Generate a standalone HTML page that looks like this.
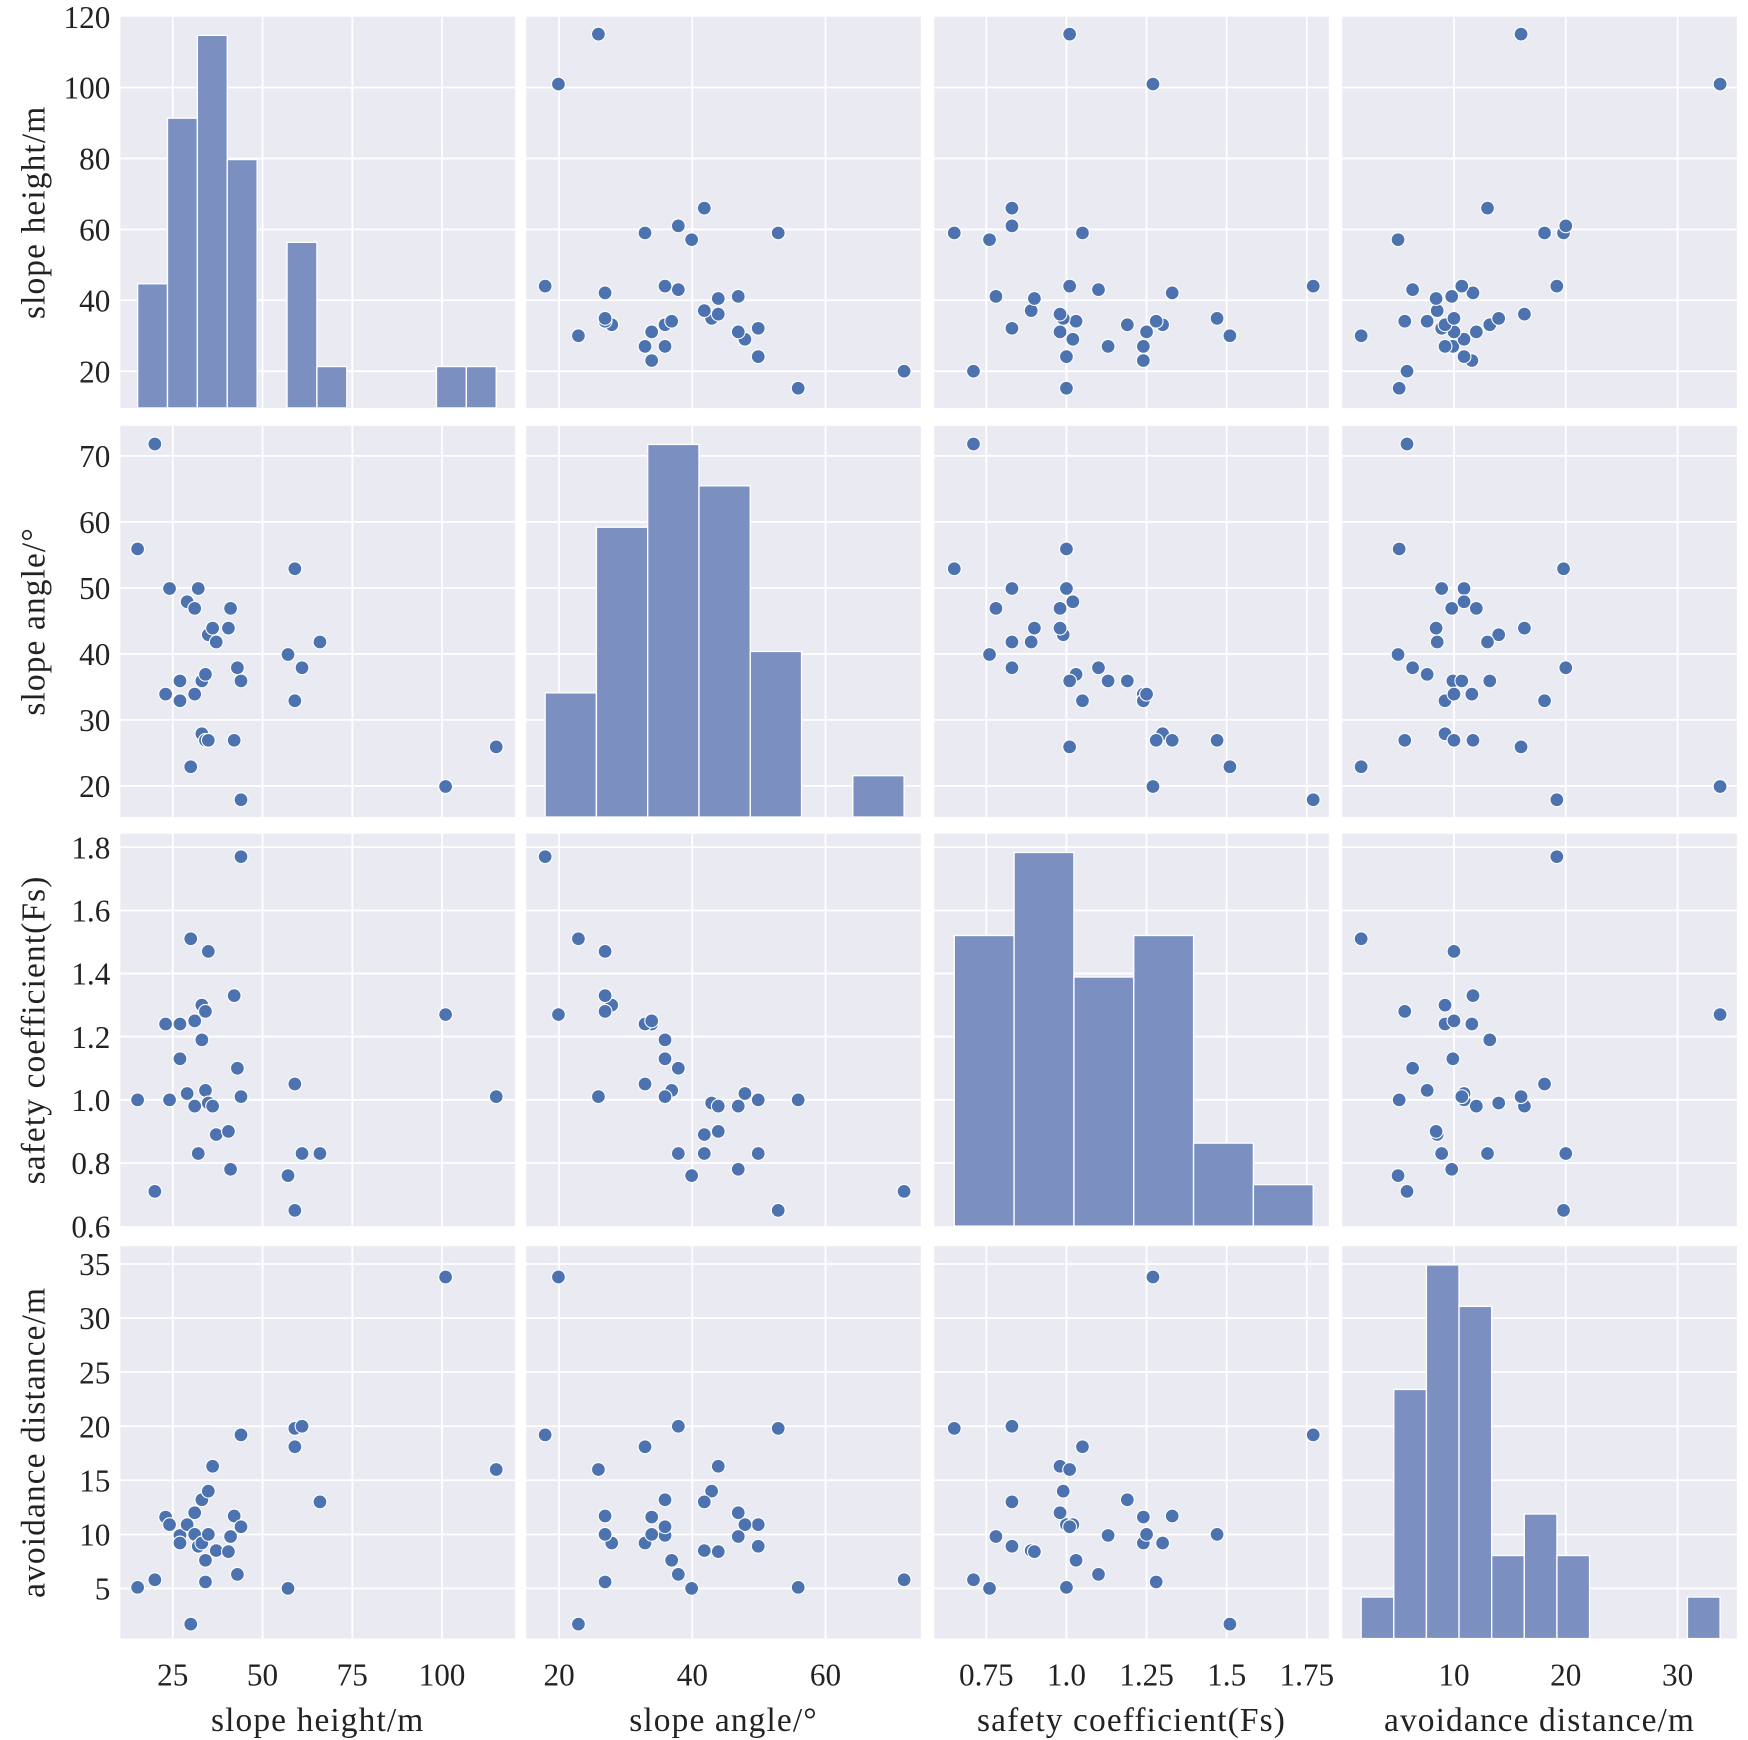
<!DOCTYPE html>
<html><head><meta charset="utf-8"><style>
html,body{margin:0;padding:0;background:#fff}
svg{display:block}
text{font-family:"Liberation Serif",serif;fill:#222}
</style></head><body>
<svg id="chart" width="1748" height="1740" viewBox="0 0 1568 1561" preserveAspectRatio="none" xmlns="http://www.w3.org/2000/svg"></svg>
<script>
// data: one row per slope sample
const heights = [15.2,20.0,23.0,24.1,27.0,27.0,29.0,30.0,31.1,31.1,32.1,33.1,33.1,34.1,34.1,34.9,34.9,36.1,37.1,40.5,41.1,42.1,43.0,44.0,44.0,57.1,59.0,59.0,61.0,66.0,101.0,115.1];
const angles = [55.9,71.8,33.9,49.9,35.9,32.9,47.9,22.9,46.9,33.9,49.9,35.9,27.9,36.9,26.9,42.9,26.9,43.9,41.8,43.9,46.9,26.9,37.9,35.9,17.9,39.9,52.9,32.9,37.9,41.8,19.9,25.9];
const fsValues = [1.00,0.71,1.24,1.00,1.13,1.24,1.02,1.51,0.98,1.25,0.83,1.19,1.30,1.03,1.28,0.99,1.47,0.98,0.89,0.90,0.78,1.33,1.10,1.01,1.77,0.76,0.65,1.05,0.83,0.83,1.27,1.01];
const avoidValues = [5.1,5.8,11.6,10.9,9.9,9.2,10.9,1.7,12.0,10.0,8.9,13.2,9.2,7.6,5.6,14.0,10.0,16.3,8.5,8.4,9.8,11.7,6.3,10.7,19.2,5.0,19.8,18.1,20.0,13.0,33.8,16.0];
// histogram bins (diagonal)
const heightBins = [15.2,115.1];
const heightCounts = [3,7,9,6,0,4,1,0,0,0,1,1];
const angleBins = [17.9,71.8];
const angleCounts = [3,7,9,8,4,0,1];
const fsBins = [0.65,1.77];
const fsCounts = [7,9,6,7,2,1];
const avoidBins = [1.7,33.8];
const avoidCounts = [1,6,9,8,2,3,2,0,0,0,1];
// ticks
const heightXTicks = [25,50,75,100];
const heightYTicks = [20,40,60,80,100,120];
const angleXTicks = [20,40,60];
const angleYTicks = [20,30,40,50,60,70];
const fsXTicks = [0.75,1.0,1.25,1.5,1.75];
const fsXLabels = ["0.75","1.0","1.25","1.5","1.75"];
const fsYTicks = [0.6,0.8,1.0,1.2,1.4,1.6,1.8];
const fsYLabels = ["0.6","0.8","1.0","1.2","1.4","1.6","1.8"];
const avoidXTicks = [10,20,30];
const avoidYTicks = [5,10,15,20,25,30,35];
const varNames = ["slope height/m","slope angle/\u00B0","safety coefficient(Fs)","avoidance distance/m"];

const NS="http://www.w3.org/2000/svg";
const svg=document.getElementById('chart');
function mk(tag,attrs,parent){const e=document.createElementNS(NS,tag);for(const k in attrs)e.setAttribute(k,attrs[k]);(parent||svg).appendChild(e);return e;}

const colX=[108,472,838,1204], colW=354;
const rowY=[15,382,748,1118], rowH=[351,351,352,352];
// axis functions (x by column, y by row)
const xScale=[
 v=>155+(v-25)*3.22,
 v=>489+(v-17.9)*5.974,
 v=>856+(v-0.65)*287.5,
 v=>1221+(v-1.7)*10.03];
const yScale=[
 v=>333-(v-20)*3.18,
 v=>705-(v-20)*5.92,
 v=>1100-(v-0.6)*283.3,
 v=>1425-(v-5)*9.7];
const vars=[heights,angles,fsValues,avoidValues];
const xT=[heightXTicks,angleXTicks,fsXTicks,avoidXTicks];
const xL=[heightXTicks.map(String),angleXTicks.map(String),fsXLabels,avoidXTicks.map(String)];
const yT=[heightYTicks,angleYTicks,fsYTicks,avoidYTicks];
const yL=[heightYTicks.map(String),angleYTicks.map(String),fsYLabels,avoidYTicks.map(String)];
const bins=[heightBins,angleBins,fsBins,avoidBins];
const counts=[heightCounts,angleCounts,fsCounts,avoidCounts];

for(let r=0;r<4;r++){for(let c=0;c<4;c++){
  const g=mk('g',{});
  
  
  const x0=colX[c],y0=rowY[r],w=colW,h=rowH[r];
  mk('rect',{x:x0,y:y0,width:w,height:h,fill:'#eaeaf2'},g);
  const clip=mk('g',{},g);
  // grid
  xT[c].forEach(t=>{const x=xScale[c](t);if(x>x0&&x<x0+w){const l=mk('line',{x1:x,x2:x,y1:y0,y2:y0+h,stroke:'#fff','stroke-width':1.6},clip);}});
  yT[r].forEach(t=>{const y=yScale[r](t);if(y>y0&&y<y0+h){const l=mk('line',{x1:x0,x2:x0+w,y1:y,y2:y,stroke:'#fff','stroke-width':1.6},clip);}});
  if(r===c){
    const cs=counts[c],b=bins[c],n=cs.length,mx=Math.max(...cs);
    const bw=(b[1]-b[0])/n;
    cs.forEach((k,i)=>{if(!k)return;
      const xa=xScale[c](b[0]+i*bw),xb=xScale[c](b[0]+(i+1)*bw);
      const bh=k/mx*h/1.05;
      const rc=mk('rect',{x:xa,y:y0+h-bh,width:xb-xa,height:bh,fill:'#7b90c0',stroke:'#fff','stroke-width':1.2},g);
      
      
    });
  } else {
    const xs=vars[c],ys=vars[r];
    for(let i=0;i<xs.length;i++){
      const p=mk('circle',{cx:xScale[c](xs[i]),cy:yScale[r](ys[i]),r:6.2,fill:'#4c72b0',stroke:'#fff','stroke-width':1},g);
      
      
    }
  }
}}
// x tick labels and titles
for(let c=0;c<4;c++){
  xT[c].forEach((t,i)=>{const tx=mk('text',{x:xScale[c](t),y:1512,'font-size':28,'text-anchor':'middle'});tx.textContent=xL[c][i];
    });
  const tt=mk('text',{x:colX[c]+colW/2,y:1553,'font-size':30,'text-anchor':'middle','letter-spacing':'1'});tt.textContent=varNames[c];
  
}
for(let r=0;r<4;r++){
  yT[r].forEach((t,i)=>{const ty=yScale[r](t);const tx=mk('text',{x:99,y:ty+10,'font-size':28,'text-anchor':'end'});tx.textContent=yL[r][i];
    });
  const cy=rowY[r]+rowH[r]/2;
  const tt=mk('text',{x:0,y:0,'font-size':30,'text-anchor':'middle','letter-spacing':'1',transform:'translate(40,'+cy+') rotate(-90)'});tt.textContent=varNames[r];
  
}
</script>
</body></html>
